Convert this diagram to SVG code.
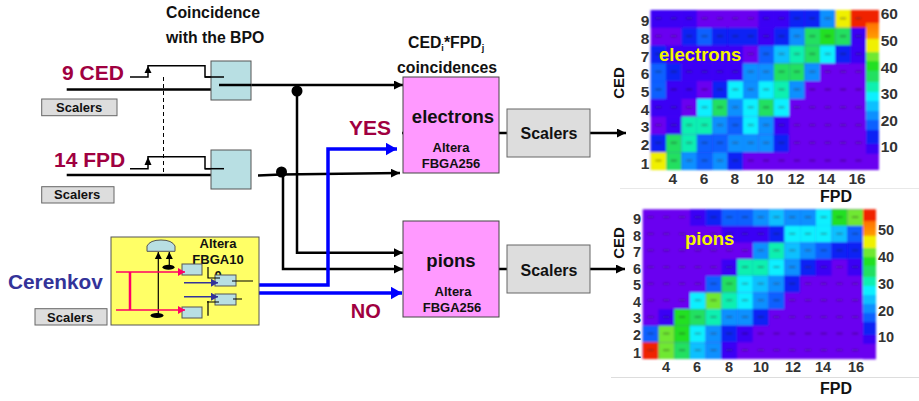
<svg xmlns="http://www.w3.org/2000/svg" width="919" height="401" viewBox="0 0 919 401">
<style>
text{font-family:"Liberation Sans",Arial,sans-serif;font-weight:700;fill:#111}
.mid{text-anchor:middle}
.mar{fill:#a00040}
.axis{fill:#333;text-anchor:middle}
.y{fill:#f5f500}
.teal{fill:#b8dfe3;stroke:#555;stroke-width:1}
.gray{fill:#ddd;stroke:#666;stroke-width:1}
.pink{fill:#ff99ff;stroke:#444;stroke-width:1}
.blk{fill:none;stroke:#000;stroke-width:2.5}
.thin{fill:none;stroke:#000;stroke-width:1.2}
.blu{fill:none;stroke:#0000ff;stroke-width:3.5}
.hot{fill:none;stroke:#ff0066;stroke-width:1.5}
.ind{fill:none;stroke:#333399;stroke-width:1.5}
.cells rect{width:1px;height:1px}
.v{fill:#6a00f0}.i{fill:#3a00f5}.b{fill:#0a20f5}.m{fill:#0a60ff}.a{fill:#1090ff}.c{fill:#10c0ff}.t{fill:#10f0ff}.q{fill:#10f0b0}.g{fill:#20e060}.G{fill:#20e020}.l{fill:#70e830}.Y{fill:#f0f000}.r{fill:#f02000}
</style>
<defs>
<marker id="ab" markerUnits="userSpaceOnUse" markerWidth="10" markerHeight="9" refX="9" refY="4.500" orient="auto"><path d="M0 0L9 4.500L0 9z" fill="#000"/></marker>
<marker id="as" markerUnits="userSpaceOnUse" markerWidth="8" markerHeight="8" refX="7" refY="4" orient="auto"><path d="M0 0.500L7 4L0 7.500z" fill="#000"/></marker>
<marker id="au" markerUnits="userSpaceOnUse" markerWidth="12" markerHeight="13" refX="11.500" refY="6.500" orient="auto"><path d="M0 0L11.500 6.500L0 13z" fill="#0000ff"/></marker>
<marker id="ap" markerUnits="userSpaceOnUse" markerWidth="8" markerHeight="8" refX="7" refY="4" orient="auto"><path d="M0 0L7 4L0 8z" fill="#ff0066"/></marker>
<marker id="ai" markerUnits="userSpaceOnUse" markerWidth="8" markerHeight="8" refX="7" refY="4" orient="auto"><path d="M0 0L7 4L0 8z" fill="#333399"/></marker>
<filter id="soft" x="-2%" y="-2%" width="104%" height="104%"><feGaussianBlur stdDeviation="1"/></filter>
<pattern id="marks" patternUnits="userSpaceOnUse" width="1" height="1"><rect x="0.3" y="0.42" width="0.4" height="0.1" fill="#222"/></pattern>
<linearGradient id="bar" x1="0" y1="1" x2="0" y2="0">
<stop offset="0" stop-color="#6a00f0"/><stop offset=".1" stop-color="#6a00f0"/><stop offset=".1" stop-color="#3a00f5"/><stop offset=".16" stop-color="#3a00f5"/><stop offset=".16" stop-color="#0a20f5"/><stop offset=".25" stop-color="#0a20f5"/><stop offset=".25" stop-color="#0a60ff"/><stop offset=".31" stop-color="#0a60ff"/><stop offset=".31" stop-color="#1090ff"/><stop offset=".37" stop-color="#1090ff"/><stop offset=".37" stop-color="#10c0ff"/><stop offset=".43" stop-color="#10c0ff"/><stop offset=".43" stop-color="#10f0ff"/><stop offset=".49" stop-color="#10f0ff"/><stop offset=".49" stop-color="#10f0b0"/><stop offset=".55" stop-color="#10f0b0"/><stop offset=".55" stop-color="#20e060"/><stop offset=".62" stop-color="#20e060"/><stop offset=".62" stop-color="#20e020"/><stop offset=".68" stop-color="#20e020"/><stop offset=".68" stop-color="#70e830"/><stop offset=".74" stop-color="#70e830"/><stop offset=".74" stop-color="#f0f000"/><stop offset=".82" stop-color="#f0f000"/><stop offset=".82" stop-color="#ffa000"/><stop offset=".92" stop-color="#ff7000"/><stop offset=".92" stop-color="#f02000"/><stop offset="1" stop-color="#f02000"/>
</linearGradient>
</defs>

<g id="connectors">
<path class="blk" d="M66.700 89.500H211"/>
<path class="blk" d="M66.700 175H211"/>
<path class="blk" d="M258 175.500L281 174.500L400 173" marker-end="url(#ab)"/>
<path class="blk" d="M219 85H403" marker-end="url(#ab)"/>
<path class="blk" d="M297 91V252.700H403" marker-end="url(#ab)"/>
<path class="blk" d="M283 174V269H403" marker-end="url(#ab)"/>
<path class="blu" d="M259 285H328V149H397" marker-end="url(#au)"/>
<path class="blu" d="M259 293H402" marker-end="url(#au)"/>
<path class="blk" d="M402 133H507"/>
<path class="blk" d="M499 269H507"/>
<path class="blk" d="M590 133H626" marker-end="url(#ab)"/>
<path class="blk" d="M590 269H625" marker-end="url(#ab)"/>
<circle cx="297" cy="91" r="5.500" fill="#000"/>
<circle cx="281.500" cy="172" r="5.500" fill="#000"/>
<path d="M163.500 77V173" fill="none" stroke="#000" stroke-width="1" stroke-dasharray="4 3"/>
</g>

<g id="ced-input">
<text x="62" y="80" font-size="21" class="mar">9 CED</text>
<path class="thin" d="M130 77H148V65.700H205V77H224" style="stroke-width:1.500"/>
<path d="M148 66L144.500 73H151.500z" fill="#000"/>
</g>
<g id="ced-scalers"><rect class="gray" x="41.700" y="99" width="75.300" height="16.700"/><text x="56" y="111.700" font-size="13">Scalers</text></g>
<g id="ced-coincidence">
<rect class="teal" x="211" y="61" width="40" height="39"/>
<path class="thin" d="M205 77H224" style="stroke-width:1.500"/>
<path class="blk" d="M219 85H251"/>
</g>
<g id="fpd-input">
<text x="54" y="167" font-size="21" class="mar">14 FPD</text>
<path class="thin" d="M130 168.700H148V156.700H205V168.700H224" style="stroke-width:1.500"/>
<path d="M148 157L144.500 165H151.500z" fill="#000"/>
</g>
<g id="fpd-scalers"><rect class="gray" x="41.700" y="186.700" width="72.300" height="16.300"/><text x="54" y="199" font-size="13">Scalers</text></g>
<g id="fpd-coincidence">
<rect class="teal" x="211" y="150" width="40" height="39"/>
<path class="thin" d="M205 168.700H224" style="stroke-width:1.500"/>
</g>
<g id="bpo-label">
<text x="166" y="18" font-size="15.800">Coincidence</text>
<text x="166" y="43" font-size="15.800">with the BPO</text>
</g>

<g id="cerenkov-label"><text x="8" y="289" font-size="20.800" style="fill:#333399">Cerenkov</text></g>
<g id="cerenkov-scalers"><rect class="gray" x="35" y="308.700" width="72" height="16.300"/><text x="47" y="322" font-size="13">Scalers</text></g>
<g id="cerenkov-fpga">
<rect x="111" y="237" width="148" height="88" fill="#ffff66" stroke="#555" stroke-width="1"/>
<text x="218" y="248" font-size="13" class="mid">Altera</text>
<text x="218" y="264" font-size="13" class="mid">FBGA10</text>
<text x="218" y="280" font-size="13" class="mid">0</text>
<path class="teal" d="M147 251.300V246Q150 240 161 240Q172 240 175 246V251.300z"/>
<rect class="teal" x="182" y="264" width="20" height="11"/>
<rect class="teal" x="182" y="307" width="20" height="11"/>
<rect class="teal" x="215" y="275" width="21" height="11"/>
<rect class="teal" x="215" y="294" width="21" height="11"/>
<ellipse cx="168.500" cy="267.300" rx="6" ry="2.500" fill="#000"/>
<ellipse cx="157" cy="315.500" rx="6.500" ry="2.500" fill="#000"/>
<path class="thin" d="M158.300 315V252" marker-end="url(#as)"/>
<path class="thin" d="M169.300 267V252" marker-end="url(#as)"/>
<path class="hot" d="M116 272H185" marker-end="url(#ap)"/>
<path class="hot" d="M116 310H185" marker-end="url(#ap)"/>
<path d="M130 272V310" fill="none" stroke="#ff0066" stroke-width="2.500"/>
<path class="ind" d="M184 282.700H218" marker-end="url(#ai)"/>
<path class="ind" d="M184 296.700H218" marker-end="url(#ai)"/>
<path class="thin" d="M208 267V278H220"/>
<path class="thin" d="M207 302H219M208 301V315.700"/>
<path class="thin" d="M232 281H253M233 299H242"/>
</g>

<g id="coinc-label">
<text x="408" y="48" font-size="15.800">CED<tspan font-size="9" dy="3">i</tspan><tspan dy="-3">*FPD</tspan><tspan font-size="9" dy="3">j</tspan></text>
<text x="397" y="72.700" font-size="15.800">coincidences</text>
</g>
<g id="electrons-fpga">
<rect class="pink" x="403" y="77" width="96" height="96"/>
<text x="453" y="123" font-size="18.500" class="mid">electrons</text>
<text x="451" y="152" font-size="13" class="mid">Altera</text>
<text x="451" y="168" font-size="13" class="mid">FBGA256</text>
</g>
<g id="pions-fpga">
<rect class="pink" x="403" y="221" width="96" height="96"/>
<text x="451" y="267" font-size="18.500" class="mid">pions</text>
<text x="453" y="296" font-size="13" class="mid">Altera</text>
<text x="452" y="312" font-size="13" class="mid">FBGA256</text>
</g>
<g id="electrons-scalers"><rect class="gray" x="507" y="109" width="83" height="48"/><text x="549" y="139" font-size="16" class="mid">Scalers</text></g>
<g id="pions-scalers"><rect class="gray" x="507" y="245" width="83" height="48"/><text x="549" y="276" font-size="16" class="mid">Scalers</text></g>
<text x="349" y="135" font-size="21" class="mar">YES</text>
<text x="350.700" y="318" font-size="20" class="mar">NO</text>

<g id="electrons-plot">
<path d="M620 188.500H919" stroke="#e8e8e8" stroke-width="1" fill="none"/>
<g filter="url(#soft)">
<g class="cells" transform="translate(650.700,10) scale(15.390,17.780)">
<rect class="v" x="0" y="0" style="width:14px;height:9px"/>
<rect class="i" x="0" y="0"/><rect class="i" x="1" y="0"/><rect class="i" x="2" y="0"/><rect class="i" x="7" y="0"/><rect class="i" x="8" y="0"/><rect class="b" x="9" y="0"/><rect class="b" x="10" y="0"/><rect class="a" x="11" y="0"/><rect class="Y" x="12" y="0"/><rect class="r" x="13" y="0"/>
<rect class="b" x="2" y="1"/><rect class="m" x="3" y="1"/><rect class="b" x="4" y="1"/><rect class="b" x="5" y="1"/><rect class="b" x="6" y="1"/><rect class="i" x="7" y="1"/><rect class="b" x="8" y="1"/><rect class="a" x="9" y="1"/><rect class="g" x="10" y="1"/><rect class="G" x="11" y="1"/><rect class="g" x="12" y="1"/><rect class="i" x="13" y="1"/>
<rect class="b" x="0" y="2"/><rect class="i" x="1" y="2"/><rect class="i" x="2" y="2"/><rect class="i" x="3" y="2"/><rect class="i" x="4" y="2"/><rect class="i" x="5" y="2"/><rect class="m" x="7" y="2"/><rect class="c" x="8" y="2"/><rect class="q" x="9" y="2"/><rect class="g" x="10" y="2"/><rect class="t" x="11" y="2"/><rect class="b" x="12" y="2"/><rect class="i" x="13" y="2"/>
<rect class="m" x="0" y="3"/><rect class="b" x="1" y="3"/><rect class="i" x="2" y="3"/><rect class="i" x="3" y="3"/><rect class="i" x="4" y="3"/><rect class="i" x="5" y="3"/><rect class="a" x="6" y="3"/><rect class="a" x="7" y="3"/><rect class="g" x="8" y="3"/><rect class="g" x="9" y="3"/><rect class="a" x="10" y="3"/>
<rect class="m" x="0" y="4"/><rect class="i" x="1" y="4"/><rect class="i" x="2" y="4"/><rect class="b" x="4" y="4"/><rect class="t" x="5" y="4"/><rect class="a" x="6" y="4"/><rect class="t" x="7" y="4"/><rect class="q" x="8" y="4"/><rect class="a" x="9" y="4"/>
<rect class="i" x="0" y="5"/><rect class="i" x="1" y="5"/><rect class="t" x="3" y="5"/><rect class="g" x="4" y="5"/><rect class="a" x="5" y="5"/><rect class="t" x="6" y="5"/><rect class="g" x="7" y="5"/><rect class="t" x="8" y="5"/>
<rect class="i" x="1" y="6"/><rect class="q" x="2" y="6"/><rect class="q" x="3" y="6"/><rect class="a" x="4" y="6"/><rect class="m" x="5" y="6"/><rect class="t" x="6" y="6"/><rect class="a" x="7" y="6"/><rect class="i" x="8" y="6"/>
<rect class="b" x="0" y="7"/><rect class="g" x="1" y="7"/><rect class="q" x="2" y="7"/><rect class="m" x="3" y="7"/><rect class="m" x="4" y="7"/><rect class="a" x="5" y="7"/><rect class="a" x="6" y="7"/><rect class="a" x="7" y="7"/><rect class="b" x="8" y="7"/>
<rect class="Y" x="0" y="8"/><rect class="g" x="1" y="8"/><rect class="a" x="2" y="8"/><rect class="m" x="3" y="8"/><rect class="a" x="4" y="8"/><rect class="b" x="5" y="8"/>
<rect x="0" y="0" fill="url(#marks)" opacity=".4" style="width:14px;height:9px"/>
</g>
<rect x="866" y="10" width="13" height="160" fill="url(#bar)"/>
</g>
<g font-size="15.500">
<text class="axis" x="645" y="26">9</text><text class="axis" x="645" y="44">8</text><text class="axis" x="645" y="62">7</text><text class="axis" x="645" y="79">6</text><text class="axis" x="645" y="97">5</text><text class="axis" x="645" y="115">4</text><text class="axis" x="645" y="132">3</text><text class="axis" x="645" y="150">2</text><text class="axis" x="645" y="169">1</text>
<text class="axis" x="672.700" y="184">4</text><text class="axis" x="704" y="184">6</text><text class="axis" x="734.700" y="184">8</text><text class="axis" x="765" y="184">10</text><text class="axis" x="796" y="184">12</text><text class="axis" x="826.700" y="184">14</text><text class="axis" x="857" y="184">16</text>
<text x="880.700" y="19" style="fill:#333">60</text><text x="880.700" y="46" style="fill:#333">50</text><text x="880.700" y="73" style="fill:#333">40</text><text x="880.700" y="99" style="fill:#333">30</text><text x="880.700" y="126" style="fill:#333">20</text><text x="880.700" y="152" style="fill:#333">10</text>
</g>
<text x="659" y="61" font-size="18.500" class="y">electrons</text>
<text x="820" y="202" font-size="16">FPD</text>
<text transform="translate(624,83) rotate(-90)" font-size="15" class="mid">CED</text>
</g>

<g id="pions-plot">
<path d="M611 377.500H919" stroke="#ddd" stroke-width="1" fill="none"/>
<g filter="url(#soft)">
<g class="cells" transform="translate(642.700,209.300) scale(15.740,16.630)">
<rect class="v" x="0" y="0" style="width:14px;height:9px"/>
<rect class="i" x="3" y="0"/><rect class="b" x="4" y="0"/><rect class="m" x="5" y="0"/><rect class="m" x="6" y="0"/><rect class="a" x="7" y="0"/><rect class="c" x="8" y="0"/><rect class="a" x="9" y="0"/><rect class="a" x="10" y="0"/><rect class="t" x="11" y="0"/><rect class="G" x="12" y="0"/><rect class="l" x="13" y="0"/>
<rect class="i" x="5" y="1"/><rect class="i" x="6" y="1"/><rect class="i" x="7" y="1"/><rect class="b" x="8" y="1"/><rect class="t" x="9" y="1"/><rect class="t" x="10" y="1"/><rect class="t" x="11" y="1"/><rect class="c" x="12" y="1"/><rect class="m" x="13" y="1"/>
<rect class="a" x="7" y="2"/><rect class="q" x="8" y="2"/><rect class="c" x="9" y="2"/><rect class="a" x="10" y="2"/><rect class="m" x="11" y="2"/><rect class="b" x="12" y="2"/><rect class="b" x="13" y="2"/>
<rect class="i" x="5" y="3"/><rect class="q" x="6" y="3"/><rect class="q" x="7" y="3"/><rect class="t" x="8" y="3"/><rect class="a" x="9" y="3"/><rect class="b" x="10" y="3"/><rect class="i" x="11" y="3"/><rect class="i" x="13" y="3"/>
<rect class="m" x="4" y="4"/><rect class="g" x="5" y="4"/><rect class="t" x="6" y="4"/><rect class="c" x="7" y="4"/><rect class="a" x="8" y="4"/><rect class="b" x="9" y="4"/>
<rect class="t" x="3" y="5"/><rect class="l" x="4" y="5"/><rect class="q" x="5" y="5"/><rect class="t" x="6" y="5"/><rect class="a" x="7" y="5"/><rect class="m" x="8" y="5"/>
<rect class="i" x="1" y="6"/><rect class="G" x="2" y="6"/><rect class="g" x="3" y="6"/><rect class="q" x="4" y="6"/><rect class="a" x="5" y="6"/><rect class="a" x="6" y="6"/><rect class="b" x="7" y="6"/>
<rect class="m" x="0" y="7"/><rect class="l" x="1" y="7"/><rect class="G" x="2" y="7"/><rect class="t" x="3" y="7"/><rect class="a" x="4" y="7"/><rect class="b" x="5" y="7"/><rect class="i" x="6" y="7"/>
<rect class="r" x="0" y="8"/><rect class="l" x="1" y="8"/><rect class="g" x="2" y="8"/><rect class="c" x="3" y="8"/><rect class="a" x="4" y="8"/><rect class="i" x="5" y="8"/>
<rect x="0" y="0" fill="url(#marks)" opacity=".4" style="width:14px;height:9px"/>
</g>
<rect x="863" y="209.300" width="13" height="150" fill="url(#bar)"/>
</g>
<g font-size="14.500">
<text class="axis" x="637" y="224">9</text><text class="axis" x="637" y="240.500">8</text><text class="axis" x="637" y="257">7</text><text class="axis" x="637" y="273.500">6</text><text class="axis" x="637" y="290">5</text><text class="axis" x="637" y="306.500">4</text><text class="axis" x="637" y="323">3</text><text class="axis" x="637" y="340">2</text><text class="axis" x="637" y="358">1</text>
<text class="axis" x="666" y="372">4</text><text class="axis" x="697" y="372">6</text><text class="axis" x="729" y="372">8</text><text class="axis" x="761" y="372">10</text><text class="axis" x="793" y="372">12</text><text class="axis" x="823" y="372">14</text><text class="axis" x="856" y="372">16</text>
<text x="878" y="235" style="fill:#333">50</text><text x="878" y="262" style="fill:#333">40</text><text x="878" y="289" style="fill:#333">30</text><text x="878" y="316" style="fill:#333">20</text><text x="878" y="342" style="fill:#333">10</text>
</g>
<text x="685" y="245" font-size="18.500" class="y">pions</text>
<text x="820" y="394" font-size="16">FPD</text>
<text transform="translate(624,243) rotate(-90)" font-size="15" class="mid">CED</text>
</g>
</svg>
